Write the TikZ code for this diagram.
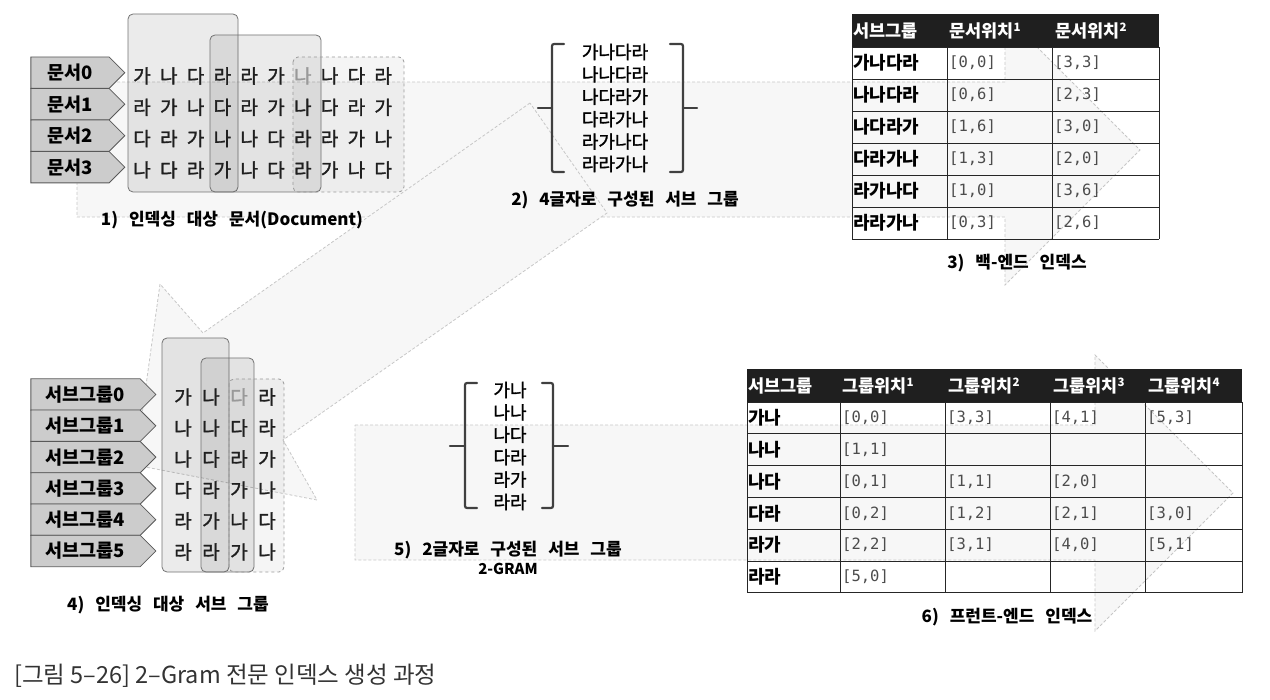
\documentclass[tikz,border=0pt]{standalone}
\usepackage{fontspec}
\setmainfont{Noto Sans CJK KR}
\newfontfamily\capfont[WordSpace=2.8]{Noto Sans CJK KR}
\newfontfamily\midfont[FakeBold=1.6]{Noto Sans CJK KR}
\newfontfamily\numfont{DejaVu Sans Mono}
\usepackage{tikz}
\usetikzlibrary{shapes.symbols}
\usetikzlibrary{positioning}
\newcommand{\supnum}[1]{\raisebox{0.6ex}{\fontsize{11.5}{11.5}\selectfont #1}}

\tikzset{
  bigarrow/.style={fill=black!3, draw=black!22, densely dashed, line width=0.8pt},
  rowtag/.style={signal, signal to=east, draw=black!65, fill=black!20, line width=0.8pt,
    minimum height=31.4pt, inner sep=0pt, font=\fontsize{18.5}{18.5}\selectfont\bfseries},
  glyph/.style={inner sep=0pt, font=\fontsize{19}{19}\selectfont\midfont},
  groupbox/.style={rounded corners=5pt, draw=black!55, line width=0.8pt, fill=black, fill opacity=0.08},
  bracket/.style={line width=2.2pt, draw=black!75, line cap=round, rounded corners=2pt},
  tabrule/.style={draw=black!85, line width=0.9pt},
  headcell/.style={anchor=west, inner sep=0pt, text=white, font=\fontsize{17.5}{18}\selectfont\bfseries},
  keycell/.style={anchor=west, inner sep=0pt, font=\fontsize{18}{18}\selectfont\bfseries},
  poscell/.style={anchor=west, inner sep=0pt, text=black!70, font=\fontsize{15.5}{16}\selectfont\numfont},
  steplabel/.style={inner sep=0pt, font=\fontsize{17}{18}\selectfont\capfont\bfseries},
  wordlist/.style={align=center, inner sep=0pt, font=\fontsize{18}{22.4}\selectfont\midfont}
}

\begin{document}
\begin{tikzpicture}[x=1pt,y=-1pt]
  \useasboundingbox (0,0) rectangle (1270,700);

  % faint flow arrows behind everything
  \draw[bigarrow] (77,82) -- (1005,82) -- (1005,15) -- (1140,150) -- (1005,285)
    -- (1005,217) -- (77,217) -- cycle;
  \draw[bigarrow] (530,103) -- (203,333) -- (160,284) -- (135,465) -- (317,500)
    -- (283,440) -- (607,213) -- cycle;
  \draw[bigarrow] (355,425) -- (1095,425) -- (1095,355) -- (1233,493) -- (1095,631)
    -- (1095,560) -- (355,560) -- cycle;

  % 1) documents
  \draw[groupbox] (128,14) rectangle (238,192);
  \draw[groupbox] (210,35) rectangle (321,192);
  \draw[groupbox, dashed, draw=black!40, fill opacity=0.04] (293,57) rectangle (404,192);
  \foreach \row [count=\r from 0] in {{가,나,다,라,라,가,나,나,다,라},{라,가,나,다,라,가,나,다,라,가},
      {다,라,가,나,나,다,라,라,가,나},{나,다,라,가,나,다,라,가,나,다}} {
    \node[rowtag, minimum width=94pt] (doc\r) at (70,72.7+31.5*\r) {문서\r};
    \foreach \ch [count=\c from 0] in \row {
      \pgfmathtruncatemacro\tone{(\r==0 && \c==6) ? 40 : 88}
      \node[glyph, text=black!\tone] (d\r c\c) at (142+26.8*\c,76+31.3*\r) {\ch};
    }
  }
  \node[steplabel] (cap1) at (232,220) {1) 인덱싱 대상 문서(Document)};

  % 2) four letter groups
  \node[wordlist] (quads) at (615,108) {가나다라\\나나다라\\나다라가\\다라가나\\라가나다\\라라가나};
  \draw[bracket] (564,44) -- (552,44) -- (552,172) -- (564,172);
  \draw[bracket] (538,108) -- (552,108);
  \draw[bracket] (670,44) -- (683,44) -- (683,172) -- (670,172);
  \draw[bracket] (683,108) -- (697,108);
  \node[steplabel] (cap2) at (625,200) {2) 4글자로 구성된 서브 그룹};

  % 3) back-end index
  \fill[black!88] (852,14) rectangle (1159,47);
  \foreach \r in {0,...,6}
    \draw[tabrule] (852,47+32*\r) -- (1159,47+32*\r);
  \foreach \xx in {852,947,1052,1159}
    \draw[tabrule] (\xx,47) -- (\xx,239);
  \node[headcell] (h3a) at (853,31) {서브그룹};
  \node[headcell] (h3b) at (949,31) {문서위치\supnum{1}};
  \node[headcell] (h3c) at (1055,31) {문서위치\supnum{2}};
  \foreach \key/\pa/\pb [count=\r from 0] in {가나다라/{[0,0]}/{[3,3]},나나다라/{[0,6]}/{[2,3]},
      나다라가/{[1,6]}/{[3,0]},다라가나/{[1,3]}/{[2,0]},라가나다/{[1,0]}/{[3,6]},라라가나/{[0,3]}/{[2,6]}} {
    \node[keycell] (b\r k) at (853,63+32*\r) {\key};
    \node[poscell] (b\r p1) at (949,63+32*\r) {\pa};
    \node[poscell] (b\r p2) at (1054,63+32*\r) {\pb};
  }
  \node[steplabel] (cap3) at (1017,263) {3) 백-엔드 인덱스};

  % 4) sub groups
  \draw[groupbox] (162,338) rectangle (229,572);
  \draw[groupbox] (201,358) rectangle (254,572);
  \draw[groupbox, dashed, draw=black!40, fill opacity=0.04] (229,379) rectangle (284,572);
  \foreach \row [count=\r from 0] in {{가,나,다,라},{나,나,다,라},{나,다,라,가},
      {다,라,가,나},{라,가,나,다},{라,라,가,나}} {
    \node[rowtag, minimum width=125pt] (sub\r) at (85.5,394.5+31.3*\r) {서브그룹\r};
    \foreach \ch [count=\c from 0] in \row {
      \pgfmathtruncatemacro\tone{(\r==0 && \c==2) ? 40 : 88}
      \node[glyph, text=black!\tone] (s\r c\c) at (183+28*\c,397+31*\r) {\ch};
    }
  }
  \node[steplabel] (cap4) at (168,605) {4) 인덱싱 대상 서브 그룹};

  % 5) two letter groups
  \node[wordlist] (pairs) at (510,446) {가나\\나나\\나다\\다라\\라가\\라라};
  \draw[bracket] (477,383) -- (465,383) -- (465,508) -- (477,508);
  \draw[bracket] (450,446) -- (465,446);
  \draw[bracket] (542,383) -- (553,383) -- (553,508) -- (542,508);
  \draw[bracket] (553,446) -- (568,446);
  \node[steplabel] (cap5) at (508,550) {5) 2글자로 구성된 서브 그룹};
  \node[steplabel, below=4pt of cap5, font=\fontsize{15}{16}\selectfont\capfont\bfseries] (gram) {2-GRAM};

  % 6) front-end index
  \fill[black!88] (747,369) rectangle (1242,402);
  \foreach \r in {0,...,6}
    \draw[tabrule] (747,402+31.8*\r) -- (1242,402+31.8*\r);
  \foreach \xx in {747,840,945,1050,1145,1242}
    \draw[tabrule] (\xx,402) -- (\xx,593);
  \node[headcell] (h6a) at (748,385.5) {서브그룹};
  \node[headcell] (h6b) at (842,385.5) {그룹위치\supnum{1}};
  \node[headcell] (h6c) at (948,385.5) {그룹위치\supnum{2}};
  \node[headcell] (h6d) at (1053,385.5) {그룹위치\supnum{3}};
  \node[headcell] (h6e) at (1148,385.5) {그룹위치\supnum{4}};
  \foreach \key/\pa/\pb/\pc/\pd [count=\r from 0] in {가나/{[0,0]}/{[3,3]}/{[4,1]}/{[5,3]},
      나나/{[1,1]}/{}/{}/{},나다/{[0,1]}/{[1,1]}/{[2,0]}/{},다라/{[0,2]}/{[1,2]}/{[2,1]}/{[3,0]},
      라가/{[2,2]}/{[3,1]}/{[4,0]}/{[5,1]},라라/{[5,0]}/{}/{}/{}} {
    \node[keycell] (f\r k) at (748,417.9+31.8*\r) {\key};
    \node[poscell] (f\r p1) at (842,417.9+31.8*\r) {\pa};
    \node[poscell] (f\r p2) at (947,417.9+31.8*\r) {\pb};
    \node[poscell] (f\r p3) at (1052,417.9+31.8*\r) {\pc};
    \node[poscell] (f\r p4) at (1147,417.9+31.8*\r) {\pd};
  }
  \node[steplabel] (cap6) at (1007,617) {6) 프런트-엔드 인덱스};

  % figure title
  \node[anchor=west, inner sep=0pt, text=black!80, font=\fontsize{23.5}{24}\selectfont] (title)
    at (14,676) {[그림 5–26] 2–Gram 전문 인덱스 생성 과정};
\end{tikzpicture}
\end{document}
